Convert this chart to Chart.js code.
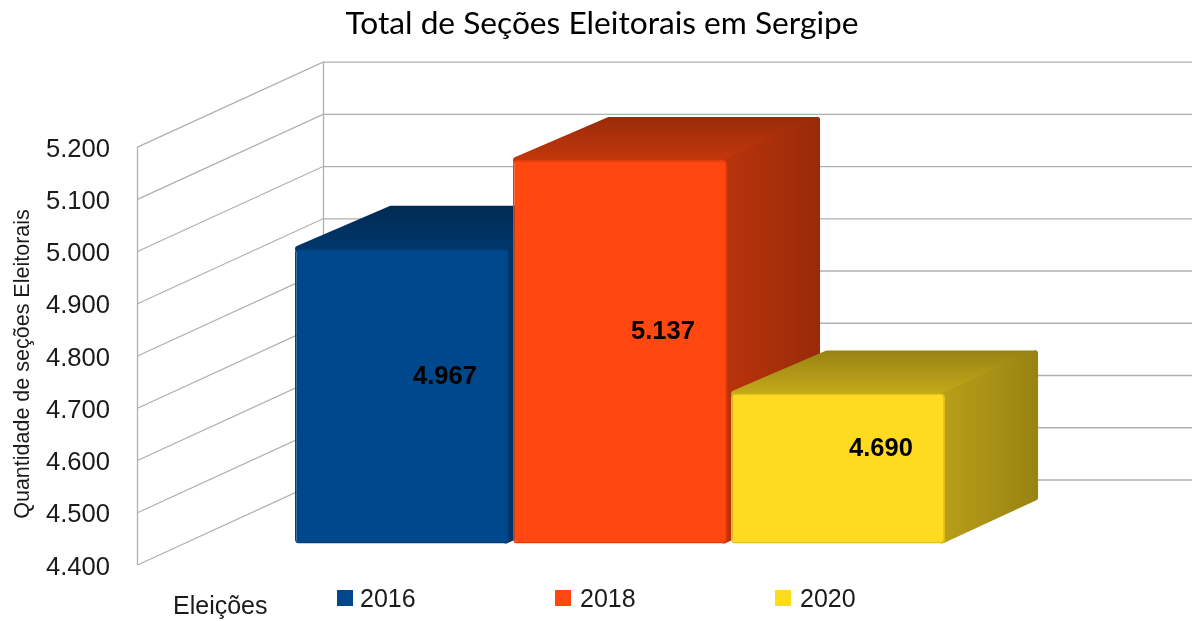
<!DOCTYPE html>
<html><head><meta charset="utf-8">
<style>html,body{margin:0;padding:0;background:#fff}canvas{display:block}</style>
<script src="https://cdn.jsdelivr.net/npm/chart.js@4"></script>
</head><body>
<canvas id="c" width="1192" height="621"></canvas>
<script>
const categories = ['Eleições'];
const seriesNames = ['2016', '2018', '2020'];
const seriesValues = [4967, 5137, 4690];
const valueLabels = ['4.967', '5.137', '4.690'];
const seriesColors = ['#00488c', '#ff470f', '#fedb20'];
const borderColors = ['#003f7a', '#e23e0d', '#e0bf1f'];
const tickLabels = ['4.400','4.500','4.600','4.700','4.800','4.900','5.000','5.100','5.200'];
const chartTitle = 'Total de Seções Eleitorais em Sergipe';
const yTitle = 'Quantidade de seções Eleitorais';

const WALL = {dx: 186, dy: -85};
const BAR_SHIFT = {dx: 48.5, dy: -20};
const DEPTH = {dx: 93, dy: -43};
const LEGEND_X = [337, 555, 775];
const LEGEND_TEXT_X = [360, 580, 800];

function shade(hex, f){
  const n = parseInt(hex.slice(1), 16);
  const c = [(n>>16)&255, (n>>8)&255, n&255].map(v => Math.round(v*f));
  return `rgb(${c[0]},${c[1]},${c[2]})`;
}
const sans = '"Liberation Sans", Arial, sans-serif';

const scene = {
  id: 'scene',
  afterLayout(chart){
    const t = chart.titleBlock;
    t.left = 12; t.right = 1192;
  },
  beforeDatasetsDraw(chart){
    const {ctx, chartArea: a, scales: {y}} = chart;
    ctx.save();
    // walls and grid
    ctx.strokeStyle = '#b0b0b0';
    ctx.lineWidth = 1.3;
    y.ticks.forEach(t => {
      const p = y.getPixelForValue(t.value);
      ctx.beginPath();
      ctx.moveTo(a.left + .5, p);
      ctx.lineTo(a.left + WALL.dx, p + WALL.dy);
      ctx.lineTo(a.right + WALL.dx, p + WALL.dy);
      ctx.stroke();
    });
    const top = y.getPixelForValue(y.max), bot = y.getPixelForValue(y.min);
    ctx.beginPath();
    ctx.moveTo(a.left + .5, top); ctx.lineTo(a.left + .5, bot);
    ctx.moveTo(a.left + WALL.dx + .5, top + WALL.dy); ctx.lineTo(a.left + WALL.dx + .5, bot + WALL.dy);
    ctx.stroke();

    // bars, left to right, each with its top and side faces
    ctx.translate(BAR_SHIFT.dx, BAR_SHIFT.dy);
    const R = 3;
    chart.getSortedVisibleDatasetMetas().forEach((meta, i) => {
      const col = seriesColors[i];
      meta.data.forEach(el => {
        const l = el.x - el.width/2, r = el.x + el.width/2, tp = el.y, bt = el.base;
        const gt = ctx.createLinearGradient(0, tp + DEPTH.dy, 0, tp);
        gt.addColorStop(0, shade(col, .6)); gt.addColorStop(1, shade(col, .77));
        ctx.fillStyle = gt; ctx.strokeStyle = gt; ctx.lineWidth = R*2; ctx.lineJoin = 'round';
        ctx.beginPath();
        ctx.moveTo(l + R, tp);
        ctx.lineTo(l + DEPTH.dx + R, tp + DEPTH.dy + R);
        ctx.lineTo(r + DEPTH.dx - R, tp + DEPTH.dy + R);
        ctx.lineTo(r - R, tp);
        ctx.closePath(); ctx.fill(); ctx.stroke();
        const gs = ctx.createLinearGradient(r, 0, r + DEPTH.dx, 0);
        gs.addColorStop(0, shade(col, .72)); gs.addColorStop(1, shade(col, .6));
        ctx.fillStyle = gs; ctx.strokeStyle = gs;
        ctx.beginPath();
        ctx.moveTo(r - R, tp + R);
        ctx.lineTo(r + DEPTH.dx - R, tp + DEPTH.dy + R);
        ctx.lineTo(r + DEPTH.dx - R, bt + DEPTH.dy - R);
        ctx.lineTo(r - R, bt - R);
        ctx.closePath(); ctx.fill(); ctx.stroke();
      });
      meta.controller.draw();
    });
    // value labels, at the middle of each bar's depth
    ctx.fillStyle = '#000';
    ctx.font = 'bold 25.5px ' + sans;
    ctx.textAlign = 'center'; ctx.textBaseline = 'middle';
    chart.getSortedVisibleDatasetMetas().forEach((meta, i) => {
      const el = meta.data[0];
      ctx.fillText(valueLabels[i], el.x + DEPTH.dx/2 - 3.5, (el.y + el.base)/2 + DEPTH.dy/2 + 2);
    });
    ctx.restore();

    // axis title, category name and legend
    ctx.save();
    ctx.fillStyle = '#1a1a1a';
    ctx.textBaseline = 'alphabetic'; ctx.textAlign = 'center';
    ctx.save();
    ctx.translate(29, 364);
    ctx.rotate(-Math.PI/2);
    ctx.font = '21.5px ' + sans;
    ctx.fillText(yTitle, 0, 0);
    ctx.restore();
    ctx.font = '25px ' + sans;
    ctx.textAlign = 'left';
    ctx.fillText(chart.data.labels[0], 173, 614);
    seriesNames.forEach((n, i) => {
      ctx.fillStyle = seriesColors[i];
      ctx.fillRect(LEGEND_X[i], 590, 16, 16);
      ctx.fillStyle = '#1a1a1a';
      ctx.fillText(n, LEGEND_TEXT_X[i], 607);
    });
    ctx.restore();
    return false;
  }
};

new Chart(document.getElementById('c'), {
  type: 'bar',
  data: {
    labels: categories,
    datasets: seriesNames.map((n, i) => ({
      label: n,
      data: [seriesValues[i]],
      backgroundColor: seriesColors[i],
      borderColor: borderColors[i],
      borderWidth: 1.5,
      borderSkipped: false,
      borderRadius: 4,
      base: 4403
    }))
  },
  options: {
    responsive: false,
    animation: false,
    devicePixelRatio: 1,
    layout: {padding: {left: 0, right: 186, top: 0, bottom: 56}},
    categoryPercentage: 0.7526,
    barPercentage: 0.982,
    scales: {
      x: {display: false, grid: {display: false}},
      y: {
        min: 4400, max: 5200,
        grid: {display: false, drawTicks: false},
        border: {display: false},
        afterFit(s){ s.width = 137; },
        ticks: {
          stepSize: 100,
          padding: 27,
          labelOffset: 2.5,
          color: '#1a1a1a',
          font: {family: sans, size: 25.6},
          callback: (v, i) => tickLabels[i]
        }
      }
    },
    plugins: {
      legend: {display: false},
      tooltip: {enabled: false},
      title: {
        display: true,
        text: chartTitle,
        color: '#000',
        font: {family: 'Lato', size: 31.7, weight: 'normal', lineHeight: 1.2},
        padding: {top: 5, bottom: 104}
      }
    }
  },
  plugins: [scene]
});
</script>
</body></html>
